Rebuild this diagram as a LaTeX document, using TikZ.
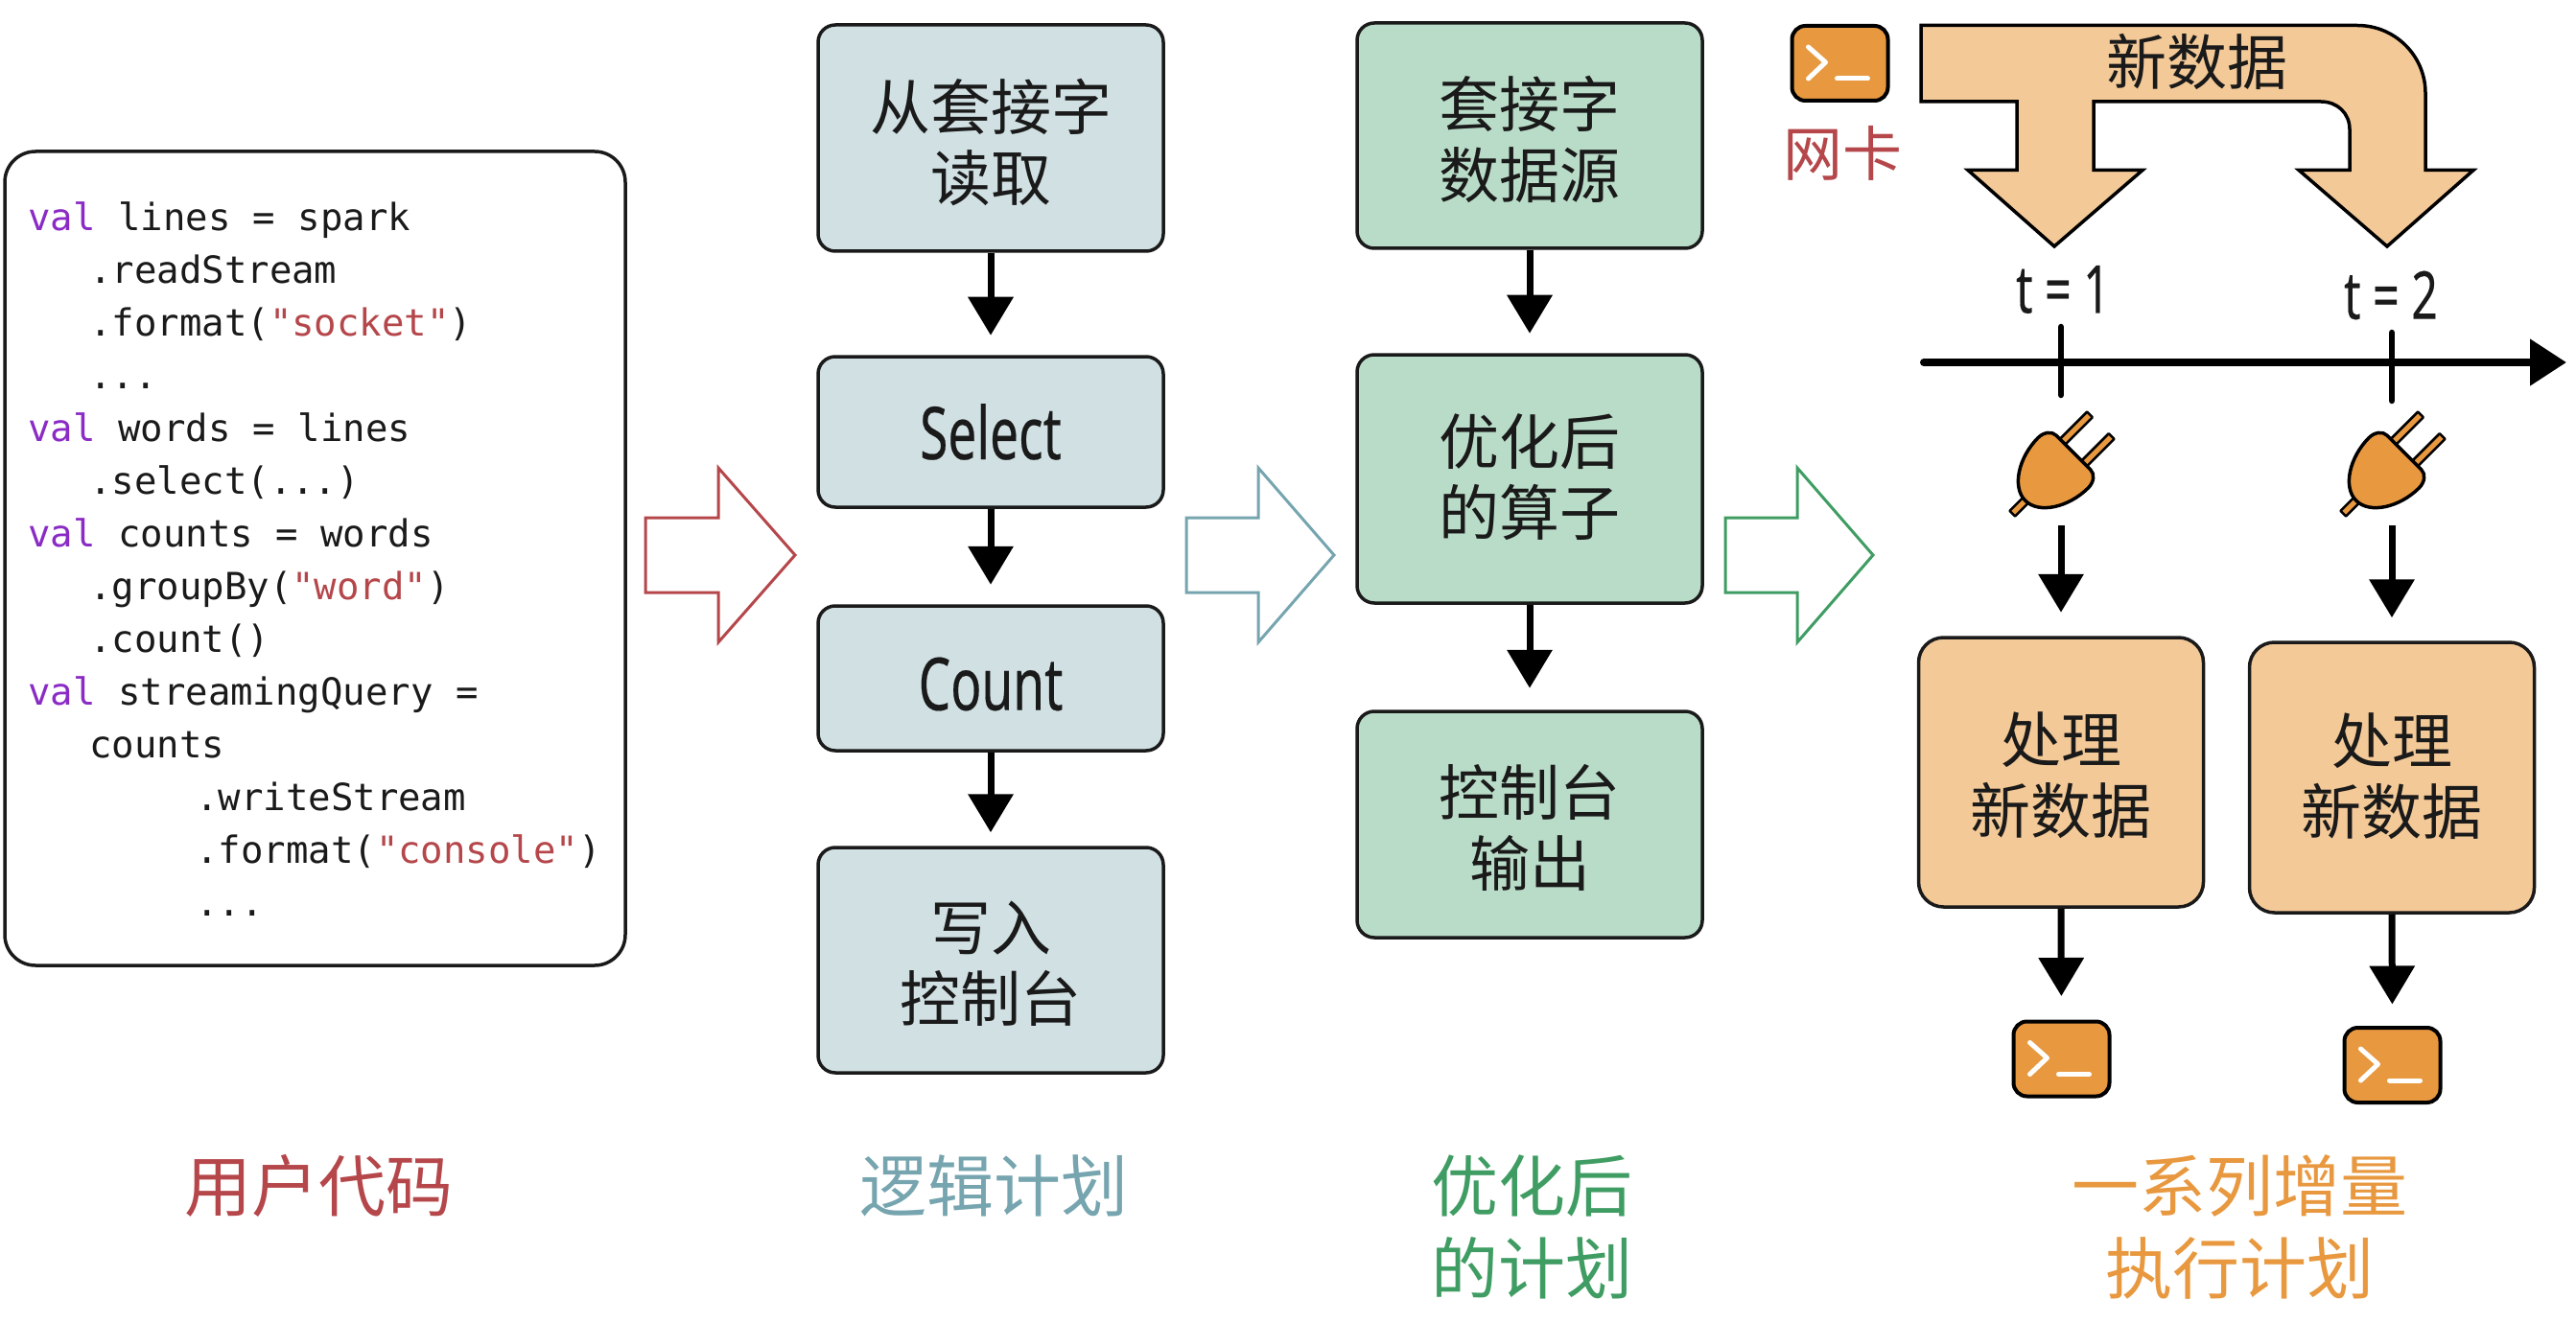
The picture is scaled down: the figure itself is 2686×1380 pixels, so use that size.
\documentclass[tikz,border=0pt]{standalone}
\usepackage{fontspec}
\usetikzlibrary{arrows.meta}
\setmainfont{Noto Sans CJK SC}
\newfontfamily\cjkf{Noto Sans CJK SC}
\newfontfamily\condf[FakeStretch=0.7,FakeBold=0.25]{Noto Sans}
\newfontfamily\codef{DejaVu Sans Mono}
\definecolor{ink}{HTML}{1A1A1A}
\definecolor{redc}{HTML}{B5474B}
\definecolor{bluec}{HTML}{76A5AF}
\definecolor{greenc}{HTML}{3F9D63}
\definecolor{orangec}{HTML}{E8983F}
\definecolor{logfill}{HTML}{D0E0E3}
\definecolor{optfill}{HTML}{B9DCC8}
\definecolor{procfill}{HTML}{F3C998}
\definecolor{purplec}{HTML}{8A2BC5}
\newcommand{\kw}[1]{\textcolor{purplec}{#1}}
\newcommand{\strc}[1]{\textcolor{redc}{#1}}
% push a box's text down (first line) or up (last line) by #1
\newcommand{\dn}[2]{\setbox0\hbox{#2}\rule{0pt}{\dimexpr\ht0+2\dimexpr#1\relax\relax}\box0 }
\newcommand{\up}[2]{\setbox0\hbox{#2}\rule[-\dimexpr\dp0+2\dimexpr#1\relax\relax]{0pt}{0pt}\box0 }
\newcommand{\termicon}[3]{%
  \node[termbox] (#1) at (#2,#3) {};
  \draw[termglyph] (#2-33,#3-17) -- (#2-15,#3-1) -- (#2-33,#3+16);
  \draw[termglyph] (#2-3,#3+16) -- (#2+29,#3+16);
}
\newcommand{\plugicon}[3]{%
  \coordinate (#1) at (#2,#3);
  \begin{scope}[shift={(#2,#3)},x={(0.7071pt,0.7071pt)},y={(0.7071pt,-0.7071pt)}]
    \draw[plugline] (15,-20) -- (64,-20) -- (64,-12) -- (15,-12) -- cycle;
    \draw[plugline] (15,12) -- (64,12) -- (64,20) -- (15,20) -- cycle;
    \draw[plugline] (-66,-4) -- (-30,-4) -- (-30,4) -- (-66,4) -- cycle;
    \draw[plugline,line width=3.5pt] (24,-25) .. controls (24,-32) and (17,-37) .. (9,-37)
      .. controls (-20,-37) and (-47,-20) .. (-47,0)
      .. controls (-47,20) and (-20,37) .. (9,37)
      .. controls (17,37) and (24,32) .. (24,25) -- cycle;
  \end{scope}
}
\tikzset{
  boxbase/.style={draw=ink,line width=3.5pt,rounded corners=18pt,inner sep=0pt,text=ink,align=center,
    font=\cjkf\fontsize{63}{74}\selectfont},
  logbox/.style={boxbase,fill=logfill,minimum width=360pt},
  optbox/.style={boxbase,fill=optfill,minimum width=360pt},
  procbox/.style={boxbase,fill=procfill,minimum width=297pt,rounded corners=26pt},
  termbox/.style={draw=black,line width=4pt,fill=orangec,rounded corners=14pt,minimum width=100pt,minimum height=78pt,inner sep=0pt},
  termglyph/.style={draw=white,line width=5pt,line cap=round,line join=round},
  plugline/.style={draw=black,line width=2.5pt,fill=orangec,line join=round},
  flow/.style={line width=7pt,draw=black,-{Triangle[length=40pt,width=46pt]}},
  hollow/.style={line width=3pt,fill=white,line join=miter},
  caption/.style={align=center,font=\cjkf\fontsize{70}{86}\selectfont},
  ticklabel/.style={font=\condf\fontsize{69}{70}\selectfont,text=ink},
  bigarrow/.style={draw=black,line width=3.5pt,fill=procfill,line join=miter},
  tickmark/.style={line width=6.5pt,draw=black,line cap=round},
}
\begin{document}
\begin{tikzpicture}[x=1pt,y=-1pt]
\useasboundingbox (0,0) rectangle (2686,1380);

% code box
\node[draw=ink,line width=3.5pt,rounded corners=32pt,minimum width=647pt,minimum height=849pt,inner sep=0pt] (code) at (328.5,582.5) {};
\node[anchor=west,inner sep=0pt,align=left,text=ink,font=\codef\fontsize{39}{54.95}\selectfont] (codetext) at (29,583) {%
\kw{val} lines = spark\\
\hspace*{64pt}.readStream\\
\hspace*{64pt}.format(\strc{"socket"})\\
\hspace*{64pt}...\\
\kw{val} words = lines\\
\hspace*{64pt}.select(...)\\
\kw{val} counts = words\\
\hspace*{64pt}.groupBy(\strc{"word"})\\
\hspace*{64pt}.count()\\
\kw{val} streamingQuery =\\
\hspace*{64pt}counts\\
\hspace*{175pt}.writeStream\\
\hspace*{175pt}.format(\strc{"console"})\\
\hspace*{175pt}...};

% hollow arrows
\draw[hollow,draw=redc] (673,540) -- (749,540) -- (749,488) -- (829,579) -- (749,670) -- (749,618) -- (673,618) -- cycle;
\draw[hollow,draw=bluec] (1237,540) -- (1312,540) -- (1312,488) -- (1391,579) -- (1312,670) -- (1312,618) -- (1237,618) -- cycle;
\draw[hollow,draw=greenc] (1799,540) -- (1874,540) -- (1874,488) -- (1953,579) -- (1874,670) -- (1874,618) -- (1799,618) -- cycle;

% logical plan
\node[logbox,minimum height=236pt] (l1) at (1033,144) {\dn{4pt}{从套接字}\\读取};
\node[logbox,minimum height=157pt] (l2) at (1033,450.5) {\condf\fontsize{76}{74}\selectfont Select};
\node[logbox,minimum height=151pt] (l3) at (1033,707.5) {\condf\fontsize{76}{74}\selectfont\dn{6pt}{Count}};
\node[logbox,minimum height=235pt] (l4) at (1033,1001.5) {\dn{4pt}{写入}\\控制台};
\draw[flow,shorten >=20.5pt] (l1.south) -- (l2.north);
\draw[flow,shorten >=20.5pt] (l2.south) -- (l3.north);
\draw[flow,shorten >=14pt] (l3.south) -- (l4.north);

% optimised plan
\node[optbox,minimum height=235pt] (o1) at (1595,141.5) {\dn{4pt}{套接字}\\数据源};
\node[optbox,minimum height=259pt] (o2) at (1595,499.5) {优化后\\\up{1.5pt}{的算子}};
\node[optbox,minimum height=236pt] (o3) at (1595,860) {\dn{3pt}{控制台}\\输出};
\draw[flow,shorten >=20.5pt] (o1.south) -- (o2.north);
\draw[flow,shorten >=22.5pt] (o2.south) -- (o3.north);

% big arrow
\draw[bigarrow] (2003,26.5) -- (2458,26.5) .. controls (2497,26.5) and (2529,58) .. (2529,97)
  -- (2529,177.5) -- (2579,177.5) -- (2489,257) -- (2397,177.5) -- (2450,177.5) -- (2450,135)
  .. controls (2450,118) and (2437,106) .. (2420,106) -- (2183,106) -- (2183,177.5) -- (2234,177.5)
  -- (2142,257) -- (2052,177.5) -- (2103,177.5) -- (2103,106) -- (2003,106) -- cycle;
\node[font=\cjkf\fontsize{63}{70}\selectfont,text=ink] (newdata) at (2291,65) {新数据};

% input terminal
\termicon{tin}{1918.5}{66}
\node[font=\cjkf\fontsize{62}{70}\selectfont,text=redc] (nic) at (1921,160) {网卡};

% time axis
\node[ticklabel] (t1) at (2151,302) {t = 1};
\node[ticklabel] (t2) at (2493,308) {t = 2};
\coordinate (axs) at (2006,378);
\coordinate (axe) at (2676,378);
\draw[line width=8pt,draw=black,-{Triangle[length=38pt,width=47pt]},line cap=round] (axs) -- (axe);
\coordinate (t1a) at (2149,341); \coordinate (t1b) at (2149,412);
\coordinate (t2a) at (2494,347); \coordinate (t2b) at (2494,418);
\draw[tickmark] (t1a) -- (t1b);
\draw[tickmark] (t2a) -- (t2b);

% plugs
\plugicon{plug1}{2145}{489}
\plugicon{plug2}{2490}{489}
\coordinate (p1out) at (2149,548);
\coordinate (p2out) at (2494,548);

% process boxes
\node[procbox,minimum height=281pt] (p1) at (2149,805.5) {\dn{3pt}{处理}\\新数据};
\node[procbox,minimum height=282pt] (p2) at (2494,811) {处理\\\up{1.5pt}{新数据}};
\draw[flow,shorten >=24.5pt] (p1out) -- (p1.north);
\draw[flow,shorten >=24pt] (p2out) -- (p2.north);

% output terminals
\termicon{tout1}{2149.5}{1104.5}
\termicon{tout2}{2494.5}{1111}
\draw[flow,shorten >=24.5pt] (p1.south) -- (tout1.north);
\draw[flow,shorten >=22.5pt] (p2.south) -- (tout2.north);

% captions
\node[caption,text=redc] (c1) at (332,1237) {用户代码};
\node[caption,text=bluec] (c2) at (1036,1237) {逻辑计划};
\node[caption,text=greenc] (c3) at (1597,1280) {优化后\\的计划};
\node[caption,text=orangec] (c4) at (2335,1280) {一系列增量\\执行计划};
\end{tikzpicture}
\end{document}
